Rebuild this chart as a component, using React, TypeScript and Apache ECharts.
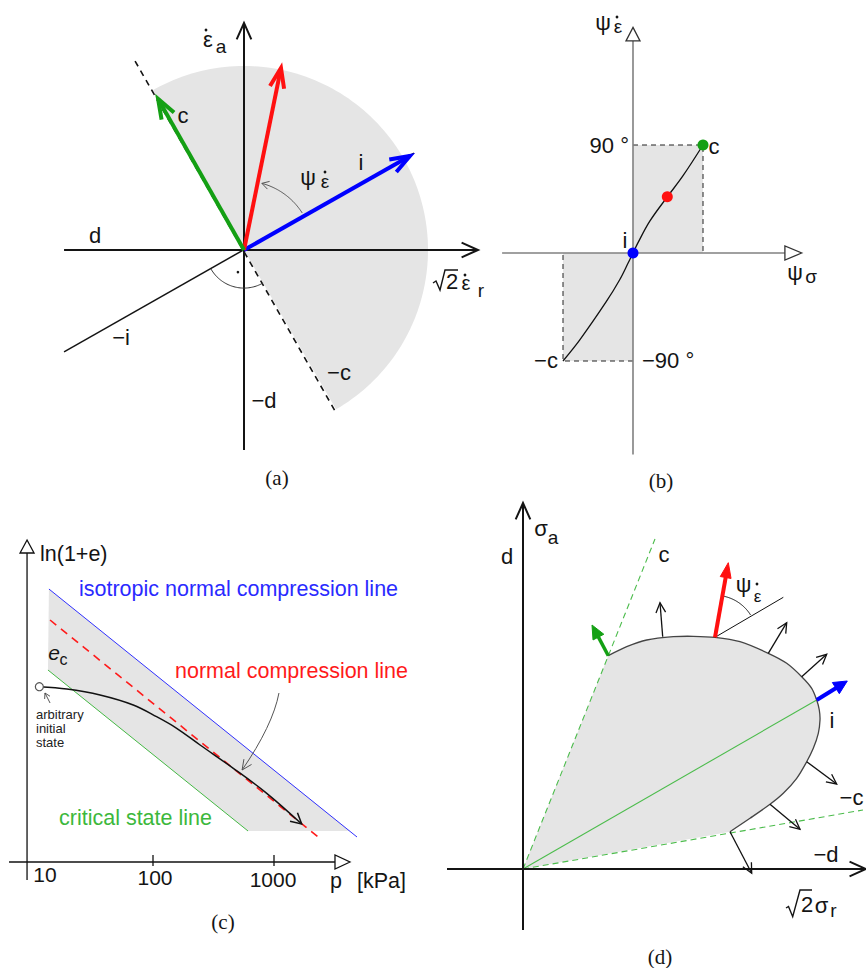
import React, { useEffect, useRef } from "react";
import * as echarts from "echarts";

type P = number[];

// ---------- (a) strain-rate plane, unit = radius of the shaded half-disc ----------
const aHorizontalAxis: P[] = [[-0.978, 0], [1.272, 0]];
const aVerticalAxis: P[] = [[0, -1.087], [0, 1.234]];
const aCLine: P[] = [[-0.592, 1.027], [0.495, -0.875]];
const aILine: P[] = [[-0.978, -0.554], [0.924, 0.527]];
const aSector = [1, -60, 120]; // radius, from (deg), to (deg)
const aRateArrows: P[] = [[0.902, 0.511], [0.201, 0.989], [-0.467, 0.821]]; // i, general, c
const aPsiArc = [0.375, 32.5, 75];
const aRightAngle = [0.207, 209.5, 300];
const aRightAngleDot: P = [-0.033, -0.12];

// ---------- (b) psi_sigma -> psi_epsdot (x in units of c, y in degrees) ----------
const bHorizontalAxis: P[] = [[-1.87, 0], [2.17, 0], [2.41, 0]];
const bVerticalAxis: P[] = [[0, -168], [0, 176.7], [0, 188]];
const bCurve: P[] = [
  [-1, -90], [-0.76, -72.4], [-0.38, -40.4], [-0.19, -22.3], [-0.07, -8.4], [0, 0],
  [0.07, 8.4], [0.24, 26.5], [0.49, 46.8], [0.71, 64], [1, 90],
];
const bStateI: P = [0, 0];
const bStateMid: P = [0.49, 46.8];
const bStateC: P = [1, 90];
const bStateMinusC: P = [-1, -90];

// ---------- (c) ln(1+e) over p [kPa], log scale ----------
const cVerticalAxis: P[] = [[9.1, -0.18], [9.1, 3.09], [9.1, 3.22]];
const cHorizontalAxis: P[] = [[6.46, 0], [3192, 0], [4246, 0]];
const cTickMarks = [100, 1000];
const cTickLabels = ["10", "100", "1000"];
const cIsoNCL: P[] = [[13.8, 2.73], [4853, 0.25]];
const cNCL: P[] = [[14.1, 2.42], [2312, 0.25]];
const cCSL: P[] = [[13.55, 1.92], [610, 0.31]];
const cBand: P[] = [[13.8, 2.73], [4246, 0.31], [610, 0.31], [13.55, 1.92]];
const cPath: P[] = [
  [11.5, 1.753], [19.4, 1.73], [36.5, 1.67], [68.7, 1.57], [107, 1.453],
  [157, 1.337], [245, 1.17], [461, 0.937], [871, 0.687], [1694, 0.38],
];
const cInitialPointer: P[] = [[14.1, 1.59], [12.8, 1.69]];
const cNclPointer: P[] = [[1099, 1.69], [977, 1.367], [545, 0.92]]; // start, control, end

// ---------- (d) stress plane ----------
const dHorizontalAxis: P[] = [[-0.76, 0], [3.43, 0]];
const dVerticalAxis: P[] = [[0, -0.61], [0, 3.66]];
const dCLine: P[] = [[0, 0], [1.32, 3.3]];
const dMinusCLine: P[] = [[0, 0], [3.4, 0.59]];
const dILine: P[] = [[0, 0], [2.937, 1.69]];
const dSurface: P[] = [
  [0.853, 2.133], [1.037, 2.223], [1.237, 2.29], [1.503, 2.323], [1.703, 2.327],
  [1.92, 2.317], [2.17, 2.273], [2.453, 2.157], [2.637, 2.057], [2.787, 1.923],
  [2.887, 1.807], [2.937, 1.69], [2.963, 1.59], [2.97, 1.49], [2.953, 1.357],
  [2.903, 1.207], [2.837, 1.073], [2.737, 0.907], [2.603, 0.757], [2.47, 0.647],
  [2.27, 0.507], [2.07, 0.373],
];
const dNormals: P[][] = [
  [[1.397, 2.323], [1.37, 2.663]],
  [[2.453, 2.157], [2.637, 2.463]],
  [[2.787, 1.923], [3.037, 2.147]],
  [[2.837, 1.073], [3.137, 0.85]],
  [[2.47, 0.647], [2.77, 0.397]],
  [[2.07, 0.373], [2.287, -0.043]],
];
const dGreenNormal: P[] = [[0.853, 2.133], [0.69, 2.44]];
const dRedNormal: P[] = [[1.92, 2.317], [2.053, 3.063]];
const dBlueNormal: P[] = [[2.937, 1.69], [3.243, 1.88]];
const dTangent: P[] = [[1.92, 2.317], [2.603, 2.717]];
const dPsiArc = [0.42, 32, 78];

// ---------- drawing helpers ----------
const SANS = '"Liberation Sans", Arial, Helvetica, sans-serif';
const SERIF = '"Liberation Serif", "Times New Roman", serif';
const INK = "#141414";
const SHADE = "#e5e5e5";
const GREEN = "#14a014";
const RED = "#ff1010";
const BLUE = "#0000ff";

const line = (a: P, b: P, style: any) => ({
  type: "line",
  shape: { x1: a[0], y1: a[1], x2: b[0], y2: b[1] },
  style: { fill: null, ...style },
});

const headPoints = (tip: P, from: P, len: number, half: number) => {
  const dx = tip[0] - from[0];
  const dy = tip[1] - from[1];
  const L = Math.hypot(dx, dy) || 1;
  const ux = dx / L;
  const uy = dy / L;
  const a = (half * Math.PI) / 180;
  const rot = (s: number) => [ux * Math.cos(s) - uy * Math.sin(s), ux * Math.sin(s) + uy * Math.cos(s)];
  const r1 = rot(a);
  const r2 = rot(-a);
  return [
    [tip[0] - len * r1[0], tip[1] - len * r1[1]],
    tip,
    [tip[0] - len * r2[0], tip[1] - len * r2[1]],
  ];
};

const openHead = (tip: P, from: P, len: number, half: number, style: any) => ({
  type: "polyline",
  shape: { points: headPoints(tip, from, len, half) },
  style: { fill: null, lineJoin: "miter", ...style },
});

const openTriangle = (tip: P, base: P, halfWidth: number, style: any) => {
  const dx = tip[0] - base[0];
  const dy = tip[1] - base[1];
  const L = Math.hypot(dx, dy) || 1;
  const nx = -dy / L;
  const ny = dx / L;
  return {
    type: "polygon",
    shape: {
      points: [tip, [base[0] + nx * halfWidth, base[1] + ny * halfWidth], [base[0] - nx * halfWidth, base[1] - ny * halfWidth]],
    },
    style: { fill: "#fff", ...style },
  };
};

const solidArrow = (from: P, tip: P, width: number, color: string, len: number, half: number) => {
  const dx = tip[0] - from[0];
  const dy = tip[1] - from[1];
  const L = Math.hypot(dx, dy) || 1;
  const back = len * Math.cos((half * Math.PI) / 180) * 0.8;
  const end = [tip[0] - (dx / L) * back, tip[1] - (dy / L) * back];
  return [
    line(from, end, { stroke: color, lineWidth: width }),
    { type: "polygon", shape: { points: headPoints(tip, from, len, half) }, style: { fill: color, stroke: color, lineWidth: 1 } },
  ];
};

const openArrow = (from: P, tip: P, width: number, color: string, len: number, half: number) => [
  line(from, tip, { stroke: color, lineWidth: width }),
  openHead(tip, from, len, half, { stroke: color, lineWidth: width }),
];

const arcPts = (c: (p: P) => P, center: P, r: number, a0: number, a1: number, n = 48) => {
  const pts: P[] = [];
  for (let k = 0; k <= n; k++) {
    const t = ((a0 + ((a1 - a0) * k) / n) * Math.PI) / 180;
    pts.push(c([center[0] + r * Math.cos(t), center[1] + r * Math.sin(t)]));
  }
  return pts;
};

// ---------- panel renderers ----------
const renderA = (_p: any, api: any) => {
  const c = (p: P) => api.coord(p);
  const O = c([0, 0]);
  const out: any[] = [];
  out.push({ type: "polygon", shape: { points: [O, ...arcPts(c, [0, 0], aSector[0], aSector[1], aSector[2], 120)] }, style: { fill: SHADE } });
  out.push(line(c(aCLine[0]), c(aCLine[1]), { stroke: INK, lineWidth: 1.6, lineDash: [6, 5] }));
  out.push(line(c(aHorizontalAxis[0]), c(aHorizontalAxis[1]), { stroke: INK, lineWidth: 2 }));
  out.push(openHead(c(aHorizontalAxis[1]), c(aHorizontalAxis[0]), 18, 24, { stroke: INK, lineWidth: 2 }));
  out.push(line(c(aVerticalAxis[0]), c(aVerticalAxis[1]), { stroke: INK, lineWidth: 2 }));
  out.push(openHead(c(aVerticalAxis[1]), c(aVerticalAxis[0]), 18, 24, { stroke: INK, lineWidth: 2 }));
  out.push(line(c(aILine[0]), c(aILine[1]), { stroke: INK, lineWidth: 1.5 }));
  out.push({ type: "polyline", shape: { points: arcPts(c, [0, 0], aRightAngle[0], aRightAngle[1], aRightAngle[2]) }, style: { stroke: "#333", lineWidth: 1, fill: null } });
  const dot = c(aRightAngleDot);
  out.push({ type: "circle", shape: { cx: dot[0], cy: dot[1], r: 1.3 }, style: { fill: INK } });
  const psi = arcPts(c, [0, 0], aPsiArc[0], aPsiArc[1], aPsiArc[2]);
  out.push({ type: "polyline", shape: { points: psi }, style: { stroke: "#555", lineWidth: 1, fill: null } });
  out.push(openHead(psi[psi.length - 1], psi[psi.length - 3], 8, 30, { stroke: "#555", lineWidth: 1 }));
  const colors = [BLUE, RED, GREEN];
  aRateArrows.forEach((tip, k) => {
    out.push(...openArrow(O, c(tip), 4, colors[k], 21, 20));
  });
  return { type: "group", children: out };
};

const renderB = (_p: any, api: any) => {
  const c = (p: P) => api.coord(p);
  const out: any[] = [];
  const box = (s: P) => [c([0, 0]), c([s[0], 0]), c(s), c([0, s[1]])];
  out.push({ type: "polygon", shape: { points: box(bStateC) }, style: { fill: SHADE } });
  out.push({ type: "polygon", shape: { points: box(bStateMinusC) }, style: { fill: SHADE } });
  const dash = { stroke: "#222", lineWidth: 1, lineDash: [5, 4], fill: null };
  [bStateC, bStateMinusC].forEach((s) => {
    out.push({ type: "polyline", shape: { points: [c([0, s[1]]), c(s), c([s[0], 0])] }, style: dash });
  });
  const axis = { stroke: "#808080", lineWidth: 1.6 };
  out.push(line(c(bHorizontalAxis[0]), c(bHorizontalAxis[1]), axis));
  out.push(openTriangle(c(bHorizontalAxis[2]), c(bHorizontalAxis[1]), 7, { ...axis, stroke: "#333", lineWidth: 1.3 }));
  out.push(line(c(bVerticalAxis[0]), c(bVerticalAxis[1]), axis));
  out.push(openTriangle(c(bVerticalAxis[2]), c(bVerticalAxis[1]), 7, { ...axis, stroke: "#333", lineWidth: 1.3 }));
  out.push({ type: "polyline", shape: { points: bCurve.map(c), smooth: 0.35 }, style: { stroke: "#111", lineWidth: 1.3, fill: null } });
  const dots: [P, string][] = [[bStateMid, RED], [bStateC, GREEN], [bStateI, BLUE]];
  dots.forEach(([s, col]) => {
    const q = c(s);
    out.push({ type: "circle", shape: { cx: q[0], cy: q[1], r: 5.5 }, style: { fill: col } });
  });
  return { type: "group", children: out };
};

const renderC = (_p: any, api: any) => {
  const c = (p: P) => api.coord(p);
  const out: any[] = [];
  out.push({ type: "polygon", shape: { points: cBand.map(c) }, style: { fill: SHADE } });
  out.push(line(c(cCSL[0]), c(cCSL[1]), { stroke: "#44b844", lineWidth: 1 }));
  out.push(line(c(cIsoNCL[0]), c(cIsoNCL[1]), { stroke: "#3030ff", lineWidth: 1 }));
  out.push(line(c(cNCL[0]), c(cNCL[1]), { stroke: "#ff1a1a", lineWidth: 1.6, lineDash: [8, 6] }));
  const axis = { stroke: "#111", lineWidth: 1.3 };
  out.push(line(c(cVerticalAxis[0]), c(cVerticalAxis[1]), axis));
  out.push(openTriangle(c(cVerticalAxis[2]), c(cVerticalAxis[1]), 7, axis));
  out.push(line(c(cHorizontalAxis[0]), c(cHorizontalAxis[1]), axis));
  out.push(openTriangle(c(cHorizontalAxis[2]), c(cHorizontalAxis[1]), 7, axis));
  cTickMarks.forEach((v) => {
    const q = c([v, 0]);
    out.push(line([q[0], q[1] - 7], [q[0], q[1] + 4], axis));
  });
  const path = cPath.map(c);
  out.push({ type: "polyline", shape: { points: path, smooth: 0.35 }, style: { stroke: "#111", lineWidth: 1.5, fill: null } });
  out.push(openHead(path[path.length - 1], path[path.length - 2], 12, 28, { stroke: "#111", lineWidth: 1.5 }));
  out.push({ type: "circle", shape: { cx: path[0][0], cy: path[0][1], r: 4 }, style: { fill: "#fff", stroke: "#555", lineWidth: 1.2 } });
  const ip = cInitialPointer.map(c);
  out.push(line(ip[0], ip[1], { stroke: "#444", lineWidth: 0.9 }));
  out.push(openHead(ip[1], ip[0], 6, 30, { stroke: "#444", lineWidth: 0.9 }));
  const np = cNclPointer.map(c);
  out.push({ type: "bezierCurve", shape: { x1: np[0][0], y1: np[0][1], cpx1: np[1][0], cpy1: np[1][1], x2: np[2][0], y2: np[2][1] }, style: { stroke: "#555", lineWidth: 1, fill: null } });
  out.push(openHead(np[2], [np[2][0] * 0.7 + np[1][0] * 0.3, np[2][1] * 0.7 + np[1][1] * 0.3], 11, 25, { stroke: "#555", lineWidth: 1 }));
  return { type: "group", children: out };
};

const renderD = (_p: any, api: any) => {
  const c = (p: P) => api.coord(p);
  const O = c([0, 0]);
  const out: any[] = [];
  const surf = dSurface.map(c);
  out.push({ type: "polygon", shape: { points: [O, ...surf] }, style: { fill: SHADE } });
  const dashG = { stroke: "#4cbc4c", lineWidth: 1.1, lineDash: [6, 4] };
  out.push(line(c(dCLine[0]), c(dCLine[1]), dashG));
  out.push(line(c(dMinusCLine[0]), c(dMinusCLine[1]), dashG));
  out.push(line(c(dILine[0]), c(dILine[1]), { stroke: "#4cbc4c", lineWidth: 1.1 }));
  out.push({ type: "polyline", shape: { points: surf, smooth: 0.3 }, style: { stroke: "#444", lineWidth: 1.3, fill: null } });
  const axis = { stroke: INK, lineWidth: 2 };
  out.push(line(c(dHorizontalAxis[0]), c(dHorizontalAxis[1]), axis));
  out.push(openHead(c(dHorizontalAxis[1]), c(dHorizontalAxis[0]), 18, 24, axis));
  out.push(line(c(dVerticalAxis[0]), c(dVerticalAxis[1]), axis));
  out.push(openHead(c(dVerticalAxis[1]), c(dVerticalAxis[0]), 18, 24, axis));
  dNormals.forEach(([a, b]) => out.push(...openArrow(c(a), c(b), 1.3, "#111", 11, 26)));
  out.push(line(c(dTangent[0]), c(dTangent[1]), { stroke: "#111", lineWidth: 1 }));
  out.push({ type: "polyline", shape: { points: arcPts(c, dRedNormal[0], dPsiArc[0], dPsiArc[1], dPsiArc[2]) }, style: { stroke: "#111", lineWidth: 1, fill: null } });
  out.push(...solidArrow(c(dGreenNormal[0]), c(dGreenNormal[1]), 3.5, GREEN, 15, 24));
  out.push(...solidArrow(c(dRedNormal[0]), c(dRedNormal[1]), 4, RED, 16, 20));
  out.push(...solidArrow(c(dBlueNormal[0]), c(dBlueNormal[1]), 4, BLUE, 15, 26));
  return { type: "group", children: out };
};

// ---------- text ----------
const txt = (x: number, y: number, text: string, o: any = {}) => ({
  type: "text",
  x,
  y,
  silent: true,
  z: 100,
  style: {
    text,
    fill: o.color ?? INK,
    fontSize: o.size ?? 22,
    fontFamily: o.family ?? SANS,
    fontStyle: o.italic ? "italic" : "normal",
    align: o.align ?? "center",
    verticalAlign: "middle",
    textAlign: o.align ?? "center",
    textVerticalAlign: "middle",
  },
});
const dotMark = (x: number, y: number) => ({ type: "circle", z: 100, silent: true, shape: { cx: x, cy: y, r: 1.4 }, style: { fill: INK } });
const radical = (pts: P[]) => ({ type: "polyline", z: 100, silent: true, shape: { points: pts }, style: { stroke: INK, lineWidth: 1.4, fill: null } });

const labels = [
  // (a)
  txt(208, 39, "ε"), dotMark(206, 30), txt(221, 46, "a", { size: 19 }),
  txt(95, 235, "d"), txt(183, 115, "c"), txt(361, 162, "i"),
  txt(308, 177, "ψ"), txt(325, 181, "ε", { size: 19 }), dotMark(325, 172),
  radical([[433, 283], [436, 281], [440, 290], [445, 270], [458, 270]]),
  txt(452, 281, "2"), txt(466, 283, "ε", { size: 20 }), dotMark(465, 275), txt(481, 290, "r", { size: 19 }),
  txt(121, 337, "−i"), txt(339, 372, "−c"), txt(264, 400, "−d"),
  txt(277, 478, "(a)", { family: SERIF, size: 21 }),
  // (b)
  txt(603, 22, "ψ"), txt(618, 26, "ε", { size: 19 }), dotMark(617, 17),
  txt(629, 145, "90 °", { align: "right" }), txt(714, 146, "c"), txt(625, 240, "i"),
  txt(795, 272, "ψ"), txt(811, 276, "σ", { size: 19 }),
  txt(546, 360, "−c"), txt(642, 360, "−90 °", { align: "left" }),
  txt(661, 481, "(b)", { family: SERIF, size: 21 }),
  // (c)
  txt(40, 554, "ln(1+e)", { align: "left", size: 21.5 }),
  txt(79, 588.5, "isotropic normal compression line", { align: "left", size: 21.5, color: "#2a2aff" }),
  txt(175, 671, "normal compression line", { align: "left", size: 21.5, color: "#ff1a1a" }),
  txt(54, 652, "e", { size: 21, italic: true }), txt(63.5, 659.5, "c", { size: 16 }),
  txt(36, 714.5, "arbitrary", { align: "left", size: 13, color: "#222" }),
  txt(36, 728.5, "initial", { align: "left", size: 13, color: "#222" }),
  txt(36, 742.5, "state", { align: "left", size: 13, color: "#222" }),
  txt(59, 817.5, "critical state line", { align: "left", size: 21.5, color: "#3cb83c" }),
  txt(45, 874, cTickLabels[0], { size: 21 }), txt(155, 877.5, cTickLabels[1], { size: 21 }), txt(273, 879, cTickLabels[2], { size: 21 }),
  txt(330, 880.5, "p", { align: "left", size: 21.5 }), txt(357, 880.5, "[kPa]", { align: "left", size: 21.5 }),
  txt(223, 922, "(c)", { family: SERIF, size: 21 }),
  // (d)
  txt(541, 528, "σ"), txt(553, 537, "a", { size: 19 }),
  txt(507, 556, "d"), txt(664, 554, "c"),
  txt(743.5, 584.5, "ψ"), txt(757.5, 596, "ε", { size: 17 }), dotMark(757, 584),
  txt(832, 720, "i"), txt(851.5, 797, "−c"), txt(826, 854, "−d"),
  radical([[786, 908], [788.5, 906.5], [792.7, 916.7], [800, 890], [812, 890]]),
  txt(807, 904, "2"), txt(821.5, 905, "σ"), txt(833.5, 910, "r", { size: 19 }),
  txt(660, 957, "(d)", { family: SERIF, size: 21 }),
];

// hidden axes only provide the data-to-pixel mapping of each panel
const hidden = { show: false, scale: true };

const buildOption = () => ({
  animation: false,
  backgroundColor: "#fff",
  grid: [
    { left: 60, top: 10.8, width: 423.2, height: 460 },
    { left: 493, top: 13, width: 315, height: 456 },
    { left: 1.75, top: 522, width: 356.95, height: 360 },
    { left: 445, top: 499, width: 421, height: 435 },
  ],
  xAxis: [
    { gridIndex: 0, type: "value", min: -1, max: 1.3, interval: 0.1, ...hidden },
    { gridIndex: 1, type: "value", min: -2, max: 2.5, interval: 0.5, ...hidden },
    { gridIndex: 2, type: "log", logBase: 10, min: Math.pow(10, 0.75), max: Math.pow(10, 3.7), show: false },
    { gridIndex: 3, type: "value", min: -0.78, max: 3.43, interval: 0.06, ...hidden },
  ],
  yAxis: [
    { gridIndex: 0, type: "value", min: -1.2, max: 1.3, interval: 0.1, ...hidden },
    { gridIndex: 1, type: "value", min: -180, max: 200, interval: 20, ...hidden },
    { gridIndex: 2, type: "value", min: -0.2, max: 3.4, interval: 0.2, ...hidden },
    { gridIndex: 3, type: "value", min: -0.65, max: 3.7, interval: 0.05, ...hidden },
  ],
  series: [renderA, renderB, renderC, renderD].map((renderItem, i) => ({
    type: "custom",
    coordinateSystem: "cartesian2d",
    xAxisIndex: i,
    yAxisIndex: i,
    data: [[10, 1]],
    renderItem,
    silent: true,
    clip: false,
  })),
  graphic: { elements: labels },
});

export default function App() {
  const ref = useRef<HTMLDivElement>(null);
  useEffect(() => {
    if (!ref.current) return;
    const chart = echarts.init(ref.current, null, { renderer: "svg" });
    chart.setOption(buildOption() as any);
    return () => chart.dispose();
  }, []);
  return (
    <div
      ref={ref}
      style={{ position: "absolute", left: 0, top: 0, width: 866, height: 968, background: "#fff" }}
    />
  );
}
